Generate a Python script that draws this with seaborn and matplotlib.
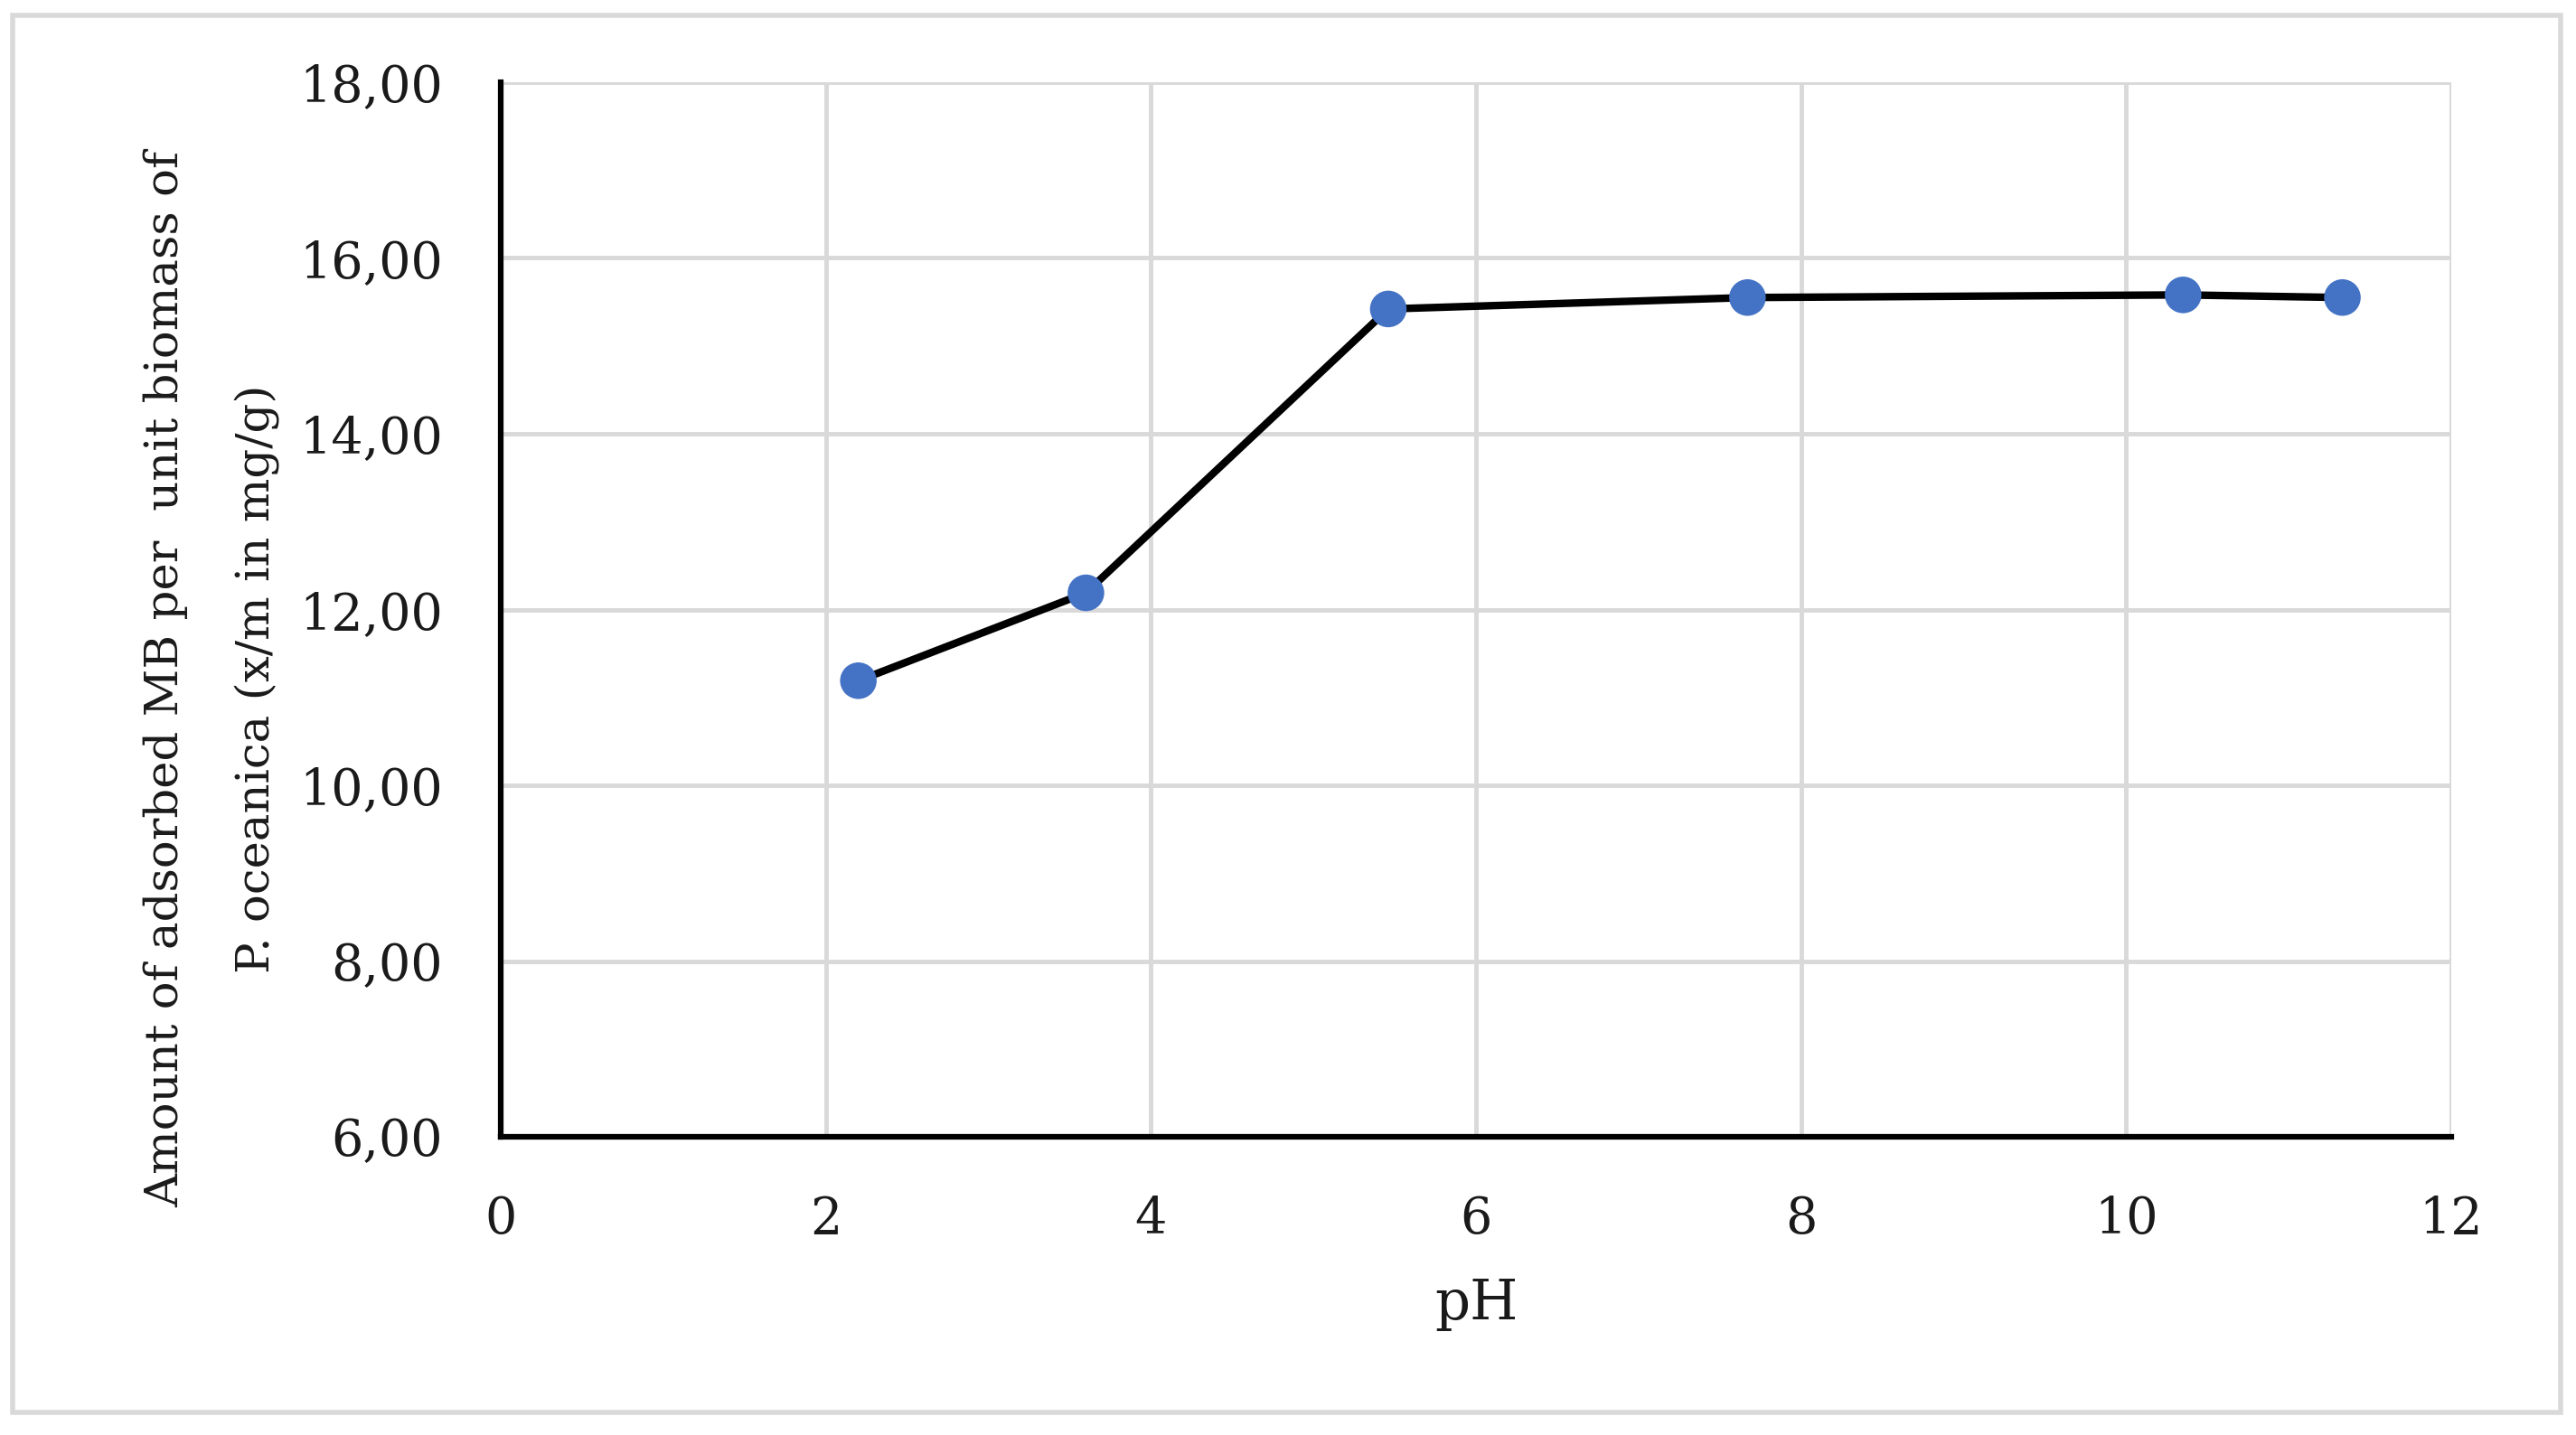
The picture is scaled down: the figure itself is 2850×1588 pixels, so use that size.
import matplotlib
matplotlib.use("Agg")
import matplotlib.pyplot as plt
from matplotlib.patches import Rectangle
import pandas as pd
import seaborn as sns

# data
ph_values = [2.20, 3.60, 5.46, 7.67, 10.35, 11.33]
adsorbed = [11.19, 12.19, 15.42, 15.55, 15.58, 15.55]
x_ticks = [0, 2, 4, 6, 8, 10, 12]
y_ticks = [6, 8, 10, 12, 14, 16, 18]
y_tick_labels = ["6,00", "8,00", "10,00", "12,00", "14,00", "16,00", "18,00"]

df = pd.DataFrame({"pH": ph_values, "q": adsorbed})

sns.set_style("whitegrid")
plt.rcParams["font.family"] = ["DejaVu Serif", "Liberation Serif"]

fig = plt.figure(figsize=(28.5, 15.88), dpi=100)
ax = fig.add_axes([0.1944, 0.2078, 0.9516 - 0.1944, 0.9427 - 0.2078])

# line + markers
sns.lineplot(data=df, x="pH", y="q", ax=ax, color="black", linewidth=6, zorder=3)
sns.scatterplot(data=df, x="pH", y="q", ax=ax, color="#4472C4", s=850,
                edgecolor="none", zorder=4)

ax.set_xlim(0, 12)
ax.set_ylim(6, 18)
ax.set_xticks(x_ticks)
ax.set_yticks(y_ticks)
ax.set_yticklabels(y_tick_labels)

ax.grid(True, color="#d9d9d9", linewidth=3.5)
ax.tick_params(axis="both", labelsize=40, colors="#1a1a1a", length=0)
ax.tick_params(axis="x", pad=46)
ax.tick_params(axis="y", pad=46)

for side in ["top", "right"]:
    ax.spines[side].set_visible(False)
for side in ["left", "bottom"]:
    ax.spines[side].set_color("black")
    ax.spines[side].set_linewidth(4.5)
    ax.spines[side].set_zorder(5)

ax.set_xlabel("pH", fontsize=44, color="#1a1a1a", labelpad=26)
ax.set_ylabel("Amount of adsorbed MB per  unit biomass of\nP. oceanica (x/m in mg/g)",
              fontsize=37, color="#1a1a1a", linespacing=2.3)
ax.yaxis.set_label_coords(-0.1137, 0.434)

# light border around the whole chart area
fig.patches.append(Rectangle((14 / 2850, 25 / 1588), 2819 / 2850, 1546 / 1588,
                             transform=fig.transFigure, fill=False,
                             edgecolor="#d9d9d9", linewidth=4))

fig.savefig("out.png", dpi=100)
plt.close()
